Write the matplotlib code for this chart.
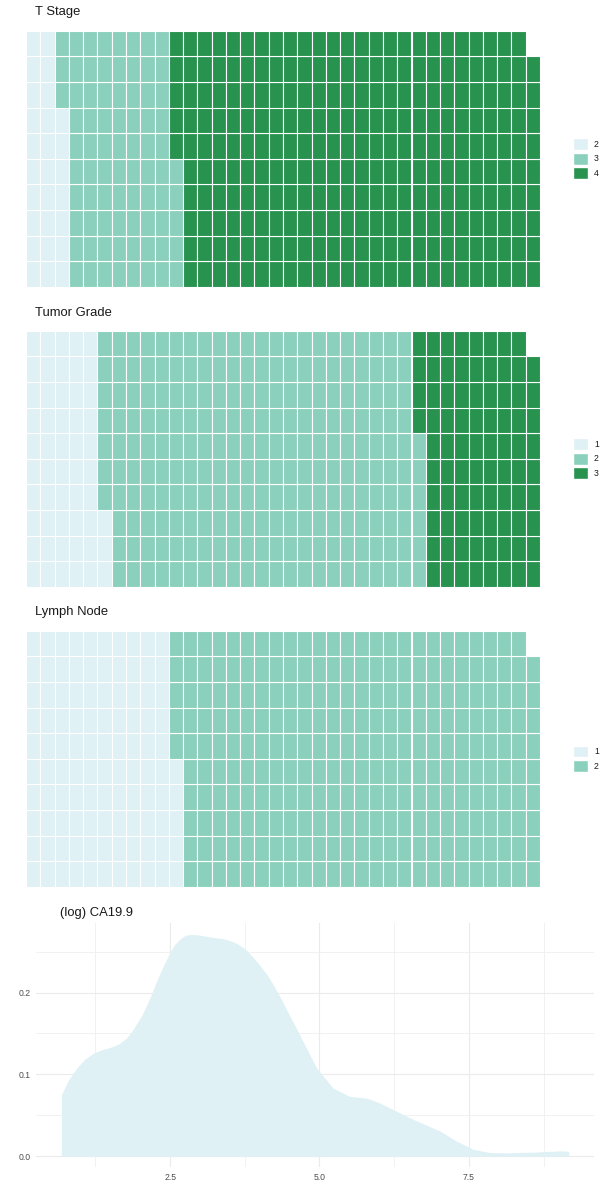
import math
import matplotlib
matplotlib.use("Agg")
import matplotlib.pyplot as plt
from matplotlib.patches import Patch

plt.rcParams['font.family'] = ['Liberation Sans', 'DejaVu Sans']

# ---- data ----
t_stage_labels = ["2", "3", "4"]
t_stage_counts = [27, 78, 254]

grade_labels = ["1", "2", "3"]
grade_counts = [53, 223, 83]

lymph_labels = ["1", "2"]
lymph_counts = [105, 254]

palette3 = ["#DFF1F5", "#8BD0BC", "#27934F"]
palette2 = ["#DFF1F5", "#8BD0BC"]

ca_x = [0.68, 0.80, 0.94, 1.08, 1.22, 1.36, 1.50, 1.64, 1.78, 1.90, 2.03, 2.16, 2.28,
        2.39, 2.50, 2.58, 2.67, 2.76, 2.86, 2.98, 3.11, 3.25, 3.39, 3.52, 3.62, 3.70,
        3.78, 3.89, 4.00, 4.12, 4.23, 4.36, 4.48, 4.67, 4.95,
        5.23, 5.51, 5.79, 6.01, 6.23, 6.57, 7.01, 7.29, 7.57, 7.85, 8.13, 8.58, 9.02, 9.17]
ca_y = [0.075, 0.093, 0.108, 0.119, 0.126, 0.130, 0.133, 0.137, 0.145, 0.157, 0.1725, 0.193, 0.215,
        0.233, 0.2495, 0.259, 0.2657, 0.270, 0.271, 0.2703, 0.2685, 0.267, 0.2657, 0.263, 0.2597, 0.256,
        0.2515, 0.243, 0.2333, 0.222, 0.209, 0.192, 0.1746, 0.148, 0.108,
        0.083, 0.073, 0.071, 0.065, 0.057, 0.045, 0.031, 0.0186, 0.0085, 0.0045, 0.004, 0.005, 0.0065, 0.006]

W, H = 600, 1200
fig = plt.figure(figsize=(6, 12), dpi=100)


def px_axes(l, t, r, b):
    return fig.add_axes([l / W, 1 - b / H, (r - l) / W, (b - t) / H])


def waffle(top, title, counts, labels, colors, nrows=10):
    total = sum(counts)
    ncols = math.ceil(total / nrows)
    ax = px_axes(26, top, 540, top + 256)
    start = 0
    for cnt, col in zip(counts, colors):
        idx = list(range(start, start + cnt))
        xs = [i // nrows for i in idx]
        ys = [i % nrows for i in idx]
        ax.bar(xs, [1] * cnt, bottom=ys, width=1, align='edge', color=col,
               edgecolor='white', linewidth=0.8)
        start += cnt
    ax.set_xlim(0, ncols)
    ax.set_ylim(0, nrows)
    ax.axis('off')
    fig.text(35 / W, 1 - (top - 15.2) / H, title, fontsize=9.4, color='#1A1A1A',
             ha='left', va='baseline')
    handles = [Patch(facecolor=c, edgecolor='white', label=l) for l, c in zip(labels, colors)]
    center = top + 128
    fig.legend(handles=handles, loc='center left',
               bbox_to_anchor=(573 / W, 1 - center / H), frameon=False,
               fontsize=6.2, handlelength=1.74, handleheight=1.74,
               handletextpad=0.7, labelspacing=0.29, borderpad=0, borderaxespad=0,
               labelcolor='#1A1A1A')
    return ax


waffle(30.7, "T Stage", t_stage_counts, t_stage_labels, palette3)
waffle(330.7, "Tumor Grade", grade_counts, grade_labels, palette3)
waffle(630.7, "Lymph Node", lymph_counts, lymph_labels, palette2)

# ---- density panel ----
ax = px_axes(36, 923.3, 594, 1167.3)
ax.fill_between(ca_x, 0, ca_y, color="#DFF1F5", linewidth=0, zorder=2)
xmin, xmax = min(ca_x), max(ca_x)
span = xmax - xmin
ax.set_xlim(xmin - 0.05 * span, xmax + 0.05 * span)
ymax = max(ca_y)
ax.set_ylim(-0.05 * ymax, 1.05 * ymax)
ax.set_xticks([2.5, 5.0, 7.5])
ax.set_xticklabels(["2.5", "5.0", "7.5"])
ax.set_xticks([1.25, 3.75, 6.25, 8.75], minor=True)
ax.set_yticks([0.0, 0.1, 0.2])
ax.set_yticklabels(["0.0", "0.1", "0.2"])
ax.set_yticks([0.05, 0.15, 0.25], minor=True)
ax.grid(which='major', color='#EBEBEB', linewidth=0.8, zorder=0)
ax.grid(which='minor', color='#EFEFEF', linewidth=0.6, zorder=0)
ax.set_axisbelow(True)
for s in ax.spines.values():
    s.set_visible(False)
ax.tick_params(which='both', length=0, labelsize=6.2, labelcolor='#4D4D4D')
ax.tick_params(axis='y', pad=3.8)
ax.tick_params(axis='x', pad=4.0)
fig.text(60 / W, 1 - 915.7 / H, "(log) CA19.9", fontsize=9.4, color='#1A1A1A',
         ha='left', va='baseline')

fig.savefig("out.png", dpi=100, facecolor='white')
